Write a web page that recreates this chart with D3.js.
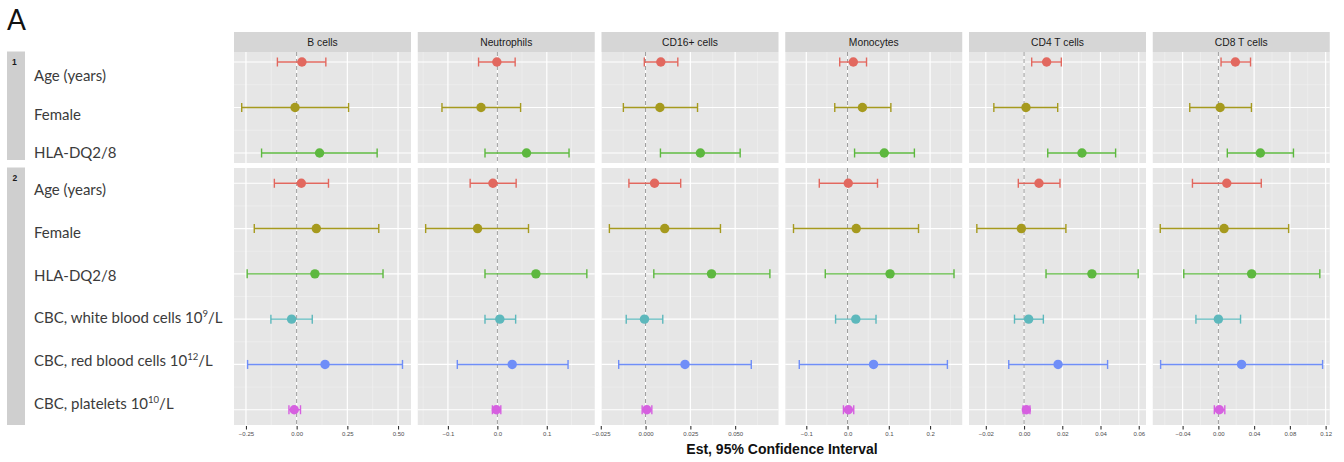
<!DOCTYPE html>
<html>
<head>
<meta charset="utf-8">
<script src="https://cdn.jsdelivr.net/npm/d3@7"></script>
<style>
  body { margin: 0; background: #fff; }
  svg { display: block; }
</style>
</head>
<body>
<svg id="chart" width="1344" height="462"></svg>
<script>
// panels (columns)
const cellTypes = ['B cells', 'Neutrophils', 'CD16+ cells', 'Monocytes', 'CD4 T cells', 'CD8 T cells']

// row labels: [text, superscript, tail]
const model1Vars = [['Age (years)'], ['Female'], ['HLA-DQ2/8']]
const model2Vars = [['Age (years)'], ['Female'], ['HLA-DQ2/8'],
  ['CBC, white blood cells 10', '9', '/L'],
  ['CBC, red blood cells 10', '12', '/L'],
  ['CBC, platelets 10', '10', '/L']]

const varColors = ['#e2685f', '#a69a1e', '#5db83f', '#5db8bc', '#6f8ef8', '#d660e0']

// x axis per cell type
const xDomains = [[-0.309, 0.564], [-0.161, 0.197], [-0.0246, 0.0742], [-0.151, 0.278], [-0.0288, 0.0638], [-0.0734, 0.1246]]
const xTicks = [[-0.25, 0, 0.25, 0.5], [-0.1, 0, 0.1], [-0.025, 0, 0.025, 0.05], [-0.1, 0, 0.1, 0.2], [-0.02, 0, 0.02, 0.04, 0.06], [-0.04, 0, 0.04, 0.08, 0.12]]
const xFormats = ['.2f', '.1f', '.3f', '.1f', '.2f', '.2f']

// model 1: estimate, lower, upper (one array per cell type, in model1Vars order)
const m1Est = [[0.026, -0.008, 0.113], [-0.001, -0.033, 0.059], [0.0085, 0.0080, 0.0306], [0.014, 0.036, 0.089], [0.0118, 0.0010, 0.0303], [0.019, 0.002, 0.047]]
const m1Lo = [[-0.095, -0.271, -0.173], [-0.038, -0.112, -0.025], [-0.0007, -0.0124, 0.0083], [-0.019, -0.031, 0.017], [0.0040, -0.0158, 0.0124], [0.003, -0.032, 0.010]]
const m1Hi = [[0.144, 0.256, 0.397], [0.036, 0.047, 0.145], [0.018, 0.029, 0.0528], [0.046, 0.105, 0.162], [0.0195, 0.0176, 0.0479], [0.036, 0.037, 0.084]]

// model 2
const m2Est = [[0.023, 0.097, 0.090, -0.025, 0.140, -0.012], [-0.009, -0.040, 0.078, 0.005, 0.030, -0.002], [0.0050, 0.0107, 0.0368, -0.0006, 0.022, 0.0007],
  [0.0017, 0.021, 0.103, 0.020, 0.063, 0.002], [0.0078, -0.0014, 0.0355, 0.0024, 0.0178, 0.0012], [0.0094, 0.0064, 0.0372, 0.000, 0.0259, 0.0011]]
const m2Lo = [[-0.110, -0.209, -0.244, -0.127, -0.242, -0.038], [-0.055, -0.145, -0.025, -0.025, -0.081, -0.010], [-0.0093, -0.0202, 0.0046, -0.0108, -0.015, -0.0019],
  [-0.0685, -0.131, -0.054, -0.029, -0.117, -0.010], [-0.0030, -0.0247, 0.0115, -0.0050, -0.0080, -0.0005], [-0.029, -0.065, -0.0387, -0.0251, -0.0646, -0.0045]]
const m2Hi = [[0.157, 0.405, 0.426, 0.077, 0.522, 0.019], [0.038, 0.063, 0.181, 0.037, 0.143, 0.007], [0.0196, 0.0418, 0.0694, 0.0096, 0.059, 0.0035],
  [0.0726, 0.172, 0.258, 0.069, 0.242, 0.015], [0.0188, 0.0219, 0.0597, 0.0101, 0.0437, 0.0031], [0.048, 0.0786, 0.1135, 0.0248, 0.1166, 0.0072]]

const svg = d3.select('#chart')

const panelLeft = 234
const panelStep = 183.75
const panelW = 177
const header = { top: 32, bottom: 52 }

const rows = [
  { id: '1', vars: model1Vars, est: m1Est, lo: m1Lo, hi: m1Hi, top: 52, bottom: 163, pad: 0.22, labelRange: [81, 158], strip: [51.5, 160] },
  { id: '2', vars: model2Vars, est: m2Est, lo: m2Lo, hi: m2Hi, top: 168, bottom: 425, pad: 0.337, labelRange: [195, 409], strip: [167.5, 425] }
]

/* panel letter */
svg.append('text')
  .attr('x', 7).attr('y', 30)
  .attr('font-family', 'Lato, "Open Sans", sans-serif')
  .attr('font-size', 28)
  .attr('fill', '#111')
  .text('A')

/* column headers */
cellTypes.forEach((name, c) => {
  const x0 = panelLeft + c * panelStep
  svg.append('rect')
    .attr('x', x0).attr('y', header.top)
    .attr('width', panelW).attr('height', header.bottom - header.top)
    .attr('fill', '#d6d6d6')
  svg.append('text')
    .attr('x', x0 + panelW / 2).attr('y', (header.top + header.bottom) / 2 + 3.7)
    .attr('text-anchor', 'middle')
    .attr('font-family', '"Liberation Sans", Arial, sans-serif')
    .attr('font-size', 10.3)
    .attr('fill', '#1a1a1a')
    .text(name)
})

rows.forEach(row => {
  const ids = row.vars.map((v, i) => i)
  const y = d3.scalePoint().domain(ids).range([row.top, row.bottom]).padding(row.pad)
  const yLab = d3.scalePoint().domain(ids).range(row.labelRange)

  /* left strip with model number */
  svg.append('rect')
    .attr('x', 7).attr('y', row.strip[0])
    .attr('width', 18).attr('height', row.strip[1] - row.strip[0])
    .attr('fill', '#cfcfcf')
  svg.append('text')
    .attr('x', row.id === '1' ? 12 : 12.5).attr('y', row.strip[0] + 13)
    .attr('font-family', '"Liberation Sans", Arial, sans-serif')
    .attr('font-size', 8.5).attr('font-weight', 'bold')
    .attr('fill', '#1a1a1a')
    .text(row.id)

  /* row labels */
  const labels = svg.append('g')
    .attr('font-family', 'Lato, "Open Sans", sans-serif')
    .attr('font-size', 15)
    .attr('fill', '#3b3b3b')
  row.vars.forEach((parts, i) => {
    const t = labels.append('text').attr('x', 34).attr('y', yLab(i))
    t.append('tspan').text(parts[0])
    if (parts[1]) {
      t.append('tspan').attr('font-size', 9.5).attr('dy', -6).text(parts[1])
      t.append('tspan').attr('dy', 6).text(parts[2])
    }
  })

  cellTypes.forEach((name, c) => {
    const x0 = panelLeft + c * panelStep
    const x = d3.scaleLinear().domain(xDomains[c]).range([x0, x0 + panelW])
    const ticks = xTicks[c]
    const gap = ticks[1] - ticks[0]
    const minor = d3.range(ticks[0] - gap / 2, ticks[ticks.length - 1] + gap, gap)
      .filter(v => v > xDomains[c][0] && v < xDomains[c][1])

    const g = svg.append('g')
    g.append('rect')
      .attr('x', x0).attr('y', row.top)
      .attr('width', panelW).attr('height', row.bottom - row.top)
      .attr('fill', '#e6e6e6')

    // minor grid
    g.selectAll('.vminor').data(minor).enter().append('line')
      .attr('x1', d => x(d)).attr('x2', d => x(d))
      .attr('y1', row.top).attr('y2', row.bottom)
      .attr('stroke', '#f2f2f2').attr('stroke-width', 0.6)
    g.selectAll('.hminor').data(ids.slice(1)).enter().append('line')
      .attr('x1', x0).attr('x2', x0 + panelW)
      .attr('y1', d => (y(d) + y(d - 1)) / 2).attr('y2', d => (y(d) + y(d - 1)) / 2)
      .attr('stroke', '#f2f2f2').attr('stroke-width', 0.6)

    // major grid
    g.selectAll('.vmajor').data(ticks).enter().append('line')
      .attr('x1', d => x(d)).attr('x2', d => x(d))
      .attr('y1', row.top).attr('y2', row.bottom)
      .attr('stroke', '#fff').attr('stroke-width', 1.2)
    g.selectAll('.hmajor').data(ids).enter().append('line')
      .attr('x1', x0).attr('x2', x0 + panelW)
      .attr('y1', d => y(d)).attr('y2', d => y(d))
      .attr('stroke', '#fff').attr('stroke-width', 1.2)

    // zero reference
    g.append('line')
      .attr('x1', x(0)).attr('x2', x(0))
      .attr('y1', row.top).attr('y2', row.bottom)
      .attr('stroke', '#9a9a9a').attr('stroke-width', 1)
      .attr('stroke-dasharray', '4,3')

    // error bars
    const bars = g.selectAll('.bar').data(ids).enter().append('g')
      .attr('stroke', d => varColors[d])
      .attr('stroke-width', 1.4)
    bars.append('line')
      .attr('x1', d => x(row.lo[c][d])).attr('x2', d => x(row.hi[c][d]))
      .attr('y1', d => y(d)).attr('y2', d => y(d))
    bars.append('line')
      .attr('x1', d => x(row.lo[c][d])).attr('x2', d => x(row.lo[c][d]))
      .attr('y1', d => y(d) - 4.5).attr('y2', d => y(d) + 4.5)
    bars.append('line')
      .attr('x1', d => x(row.hi[c][d])).attr('x2', d => x(row.hi[c][d]))
      .attr('y1', d => y(d) - 4.5).attr('y2', d => y(d) + 4.5)

    g.selectAll('.pt').data(ids).enter().append('circle')
      .attr('cx', d => x(row.est[c][d]))
      .attr('cy', d => y(d))
      .attr('r', 4.7)
      .attr('fill', d => varColors[d])

    // x axis under the last row
    if (row.id === '2') {
      const axis = d3.axisBottom(x)
        .tickValues(ticks)
        .tickFormat(d3.format(xFormats[c]))
        .tickSize(3.5)
        .tickPadding(2)
      const ax = svg.append('g')
        .attr('transform', `translate(0,${row.bottom + 1})`)
        .call(axis)
      ax.select('.domain').remove()
      ax.selectAll('.tick line').attr('stroke', '#333').attr('stroke-width', 1.1)
      ax.selectAll('.tick text')
        .attr('fill', '#4d4d4d')
        .attr('font-family', '"Liberation Sans", Arial, sans-serif')
        .attr('font-size', 6)
    }
  })
})

/* axis title */
svg.append('text')
  .attr('x', 782).attr('y', 453.5)
  .attr('text-anchor', 'middle')
  .attr('font-family', '"Liberation Sans", Arial, sans-serif')
  .attr('font-size', 14).attr('font-weight', 'bold')
  .attr('fill', '#111')
  .text('Est, 95% Confidence Interval')
</script>
</body>
</html>
